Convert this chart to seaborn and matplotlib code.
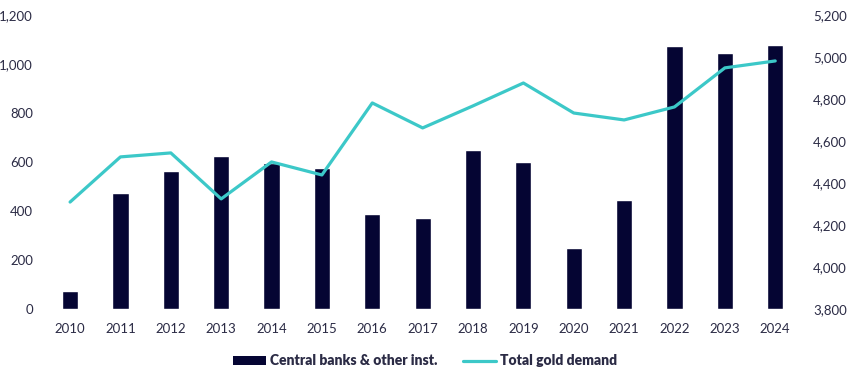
import numpy as np
import pandas as pd
import seaborn as sns
import matplotlib
matplotlib.use("Agg")
from matplotlib import pyplot as plt
from matplotlib.patches import Patch
from matplotlib.lines import Line2D
from matplotlib.ticker import FuncFormatter

years = [str(y) for y in range(2010, 2025)]
central_banks = [73, 473, 563, 624, 596, 576, 388, 371, 649, 600, 249, 445, 1073, 1045, 1078]
total_demand = [4309, 4524, 4543, 4324, 4500, 4438, 4781, 4662, 4767, 4876, 4733, 4700, 4762, 4948, 4981]

bar_color = "#050533"
line_color = "#3CC8C8"
text_color = "#2b2b45"

sns.set_style("white")
plt.rcParams['font.family'] = ['Lato', 'DejaVu Sans']

df = pd.DataFrame({"year": years, "cb": central_banks, "total": total_demand})

fig = plt.figure(figsize=(8.47, 3.74), dpi=100)
ax = fig.add_axes([0.053, 0.174, 0.892, 0.786])

sns.barplot(data=df, x="year", y="cb", color=bar_color, width=0.32,
            saturation=1, ax=ax)
ax.set_ylim(0, 1200)
ax.set_yticks(range(0, 1201, 200))
ax.yaxis.set_major_formatter(FuncFormatter(lambda v, p: f"{int(v):,}"))
ax.set_xlim(-0.5, len(years) - 0.5)
ax.set_xlabel("")
ax.set_ylabel("")

ax2 = ax.twinx()
sns.lineplot(x=np.arange(len(years)), y=df["total"], color=line_color,
             linewidth=2.3, sort=False, ax=ax2)
ax2.set_ylim(3800, 5200)
ax2.set_yticks(range(3800, 5201, 200))
ax2.yaxis.set_major_formatter(FuncFormatter(lambda v, p: f"{int(v):,}"))
ax2.set_ylabel("")

for a in (ax, ax2):
    for s in a.spines.values():
        s.set_visible(False)
    a.tick_params(length=0, labelsize=9.5, colors=text_color)
ax.tick_params(axis="x", pad=10)
ax.tick_params(axis="y", pad=8.5)
ax2.tick_params(axis="y", pad=9)

handles = [Patch(facecolor=bar_color, edgecolor="none"),
           Line2D([0], [0], color=line_color, linewidth=2.3)]
labels = ["Central banks & other inst.", "Total gold demand"]
leg = fig.legend(handles, labels, loc="center", bbox_to_anchor=(0.502, 0.035),
                 ncol=2, frameon=False, handlelength=2.4, handleheight=0.6,
                 columnspacing=1.8, handletextpad=0.3,
                 prop={"weight": "heavy", "size": 10})
for t in leg.get_texts():
    t.set_color(text_color)

fig.savefig("out.png", dpi=100)
